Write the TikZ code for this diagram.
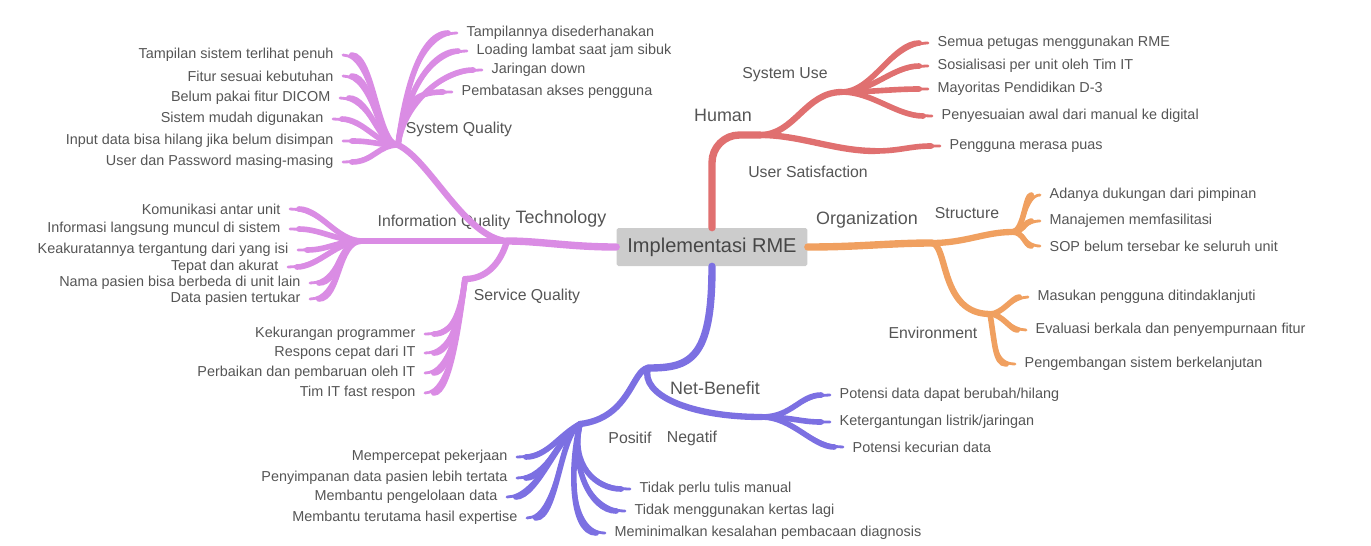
\documentclass[tikz,border=0pt]{standalone}
\usepackage{fontspec}
\setmainfont{Liberation Sans}
\usetikzlibrary{positioning}

\definecolor{techc}{RGB}{218,140,228}
\definecolor{humc}{RGB}{224,112,112}
\definecolor{orgc}{RGB}{240,160,96}
\definecolor{netc}{RGB}{124,112,226}
\definecolor{txtc}{RGB}{85,85,85}
\definecolor{boxc}{RGB}{204,204,204}

\tikzset{
  trunk/.style={draw=#1, line width=4.2pt, line cap=round},
  branch/.style={draw=#1, line width=3.6pt, line cap=round},
  leaf/.style={draw=#1, line width=3.2pt, line cap=round, shorten >=5pt,
    postaction={draw=#1, line width=1.6pt, shorten >=0pt}},
  leafl/.style={anchor=east, inner sep=1pt, outer sep=4.5pt, text=txtc, font=\fontsize{8.2}{9}\selectfont},
  leafr/.style={leafl, anchor=west},
  mainlbl/.style={text=txtc, font=\fontsize{10.2}{12}\selectfont},
  sublbl/.style={text=txtc, font=\fontsize{9}{11}\selectfont},
  root/.style={fill=boxc, rounded corners=1pt, minimum width=3.82cm, minimum height=0.76cm,
    text={rgb,255:red,70;green,70;blue,70}, font=\fontsize{11.4}{13}\selectfont}
}

\begin{document}
\begin{tikzpicture}[x=0.02cm,y=-0.02cm]
  \useasboundingbox (0,0) rectangle (1371,545);

  \node[root] (rme) at (712,247) {Implementasi RME};

  \coordinate (tj) at (507,241);
  \coordinate (sqh) at (398,145);
  \coordinate (iqh) at (362,241);
  \coordinate (svh) at (465,279);
  \coordinate (hj) at (760,135);
  \coordinate (suh) at (842,92);
  \coordinate (ush) at (875,151);
  \coordinate (oj) at (932,243);
  \coordinate (sth) at (1012,232);
  \coordinate (enh) at (990,314);
  \coordinate (nbj) at (648,368);
  \coordinate (poh) at (580,424);
  \coordinate (neh) at (762,417);

  \node[mainlbl] (tech) at (561,219) {Technology};
  \node[mainlbl] (hum) at (723,115) {Human};
  \node[mainlbl] (org) at (867,220) {Organization};
  \node[mainlbl] (nb) at (715,388) {Net-Benefit};
  \node[sublbl] (sq) at (459,129) {System Quality};
  \node[sublbl] (iq) at (444,222) {Information Quality};
  \node[sublbl] (sv) at (527,296) {Service Quality};
  \node[sublbl] (su) at (785,75) {System Use};
  \node[sublbl] (us) at (808,172) {User Satisfaction};
  \node[sublbl] (st) at (967,213) {Structure};
  \node[sublbl] (en) at (933,333) {Environment};
  \node[sublbl] (pos) at (630,438) {Positif};
  \node[sublbl] (neg) at (692,438) {Negatif};

  % Technology
  \node[leafl] (sq1) at (343,55) {Tampilan sistem terlihat penuh};
  \node[leafl] (sq2) at (343,76) {Fitur sesuai kebutuhan};
  \node[leafl] (sq3) at (340,98) {Belum pakai fitur DICOM};
  \node[leafl] (sq4) at (333,119) {Sistem mudah digunakan};
  \node[leafl] (sq5) at (343,141) {Input data bisa hilang jika belum disimpan};
  \node[leafl] (sq6) at (343,162) {User dan Password masing-masing};
  \node[leafr] (sq7) at (457,33) {Tampilannya disederhanakan};
  \node[leafr] (sq8) at (467,51) {Loading lambat saat jam sibuk};
  \node[leafr] (sq9) at (482,70) {Jaringan down};
  \node[leafr] (sq10) at (452,92) {Pembatasan akses pengguna};

  \node[leafl] (iq1) at (290,209) {Komunikasi antar unit};
  \node[leafl] (iq2) at (290,229) {Informasi langsung muncul di sistem};
  \node[leafl] (iq3) at (298,250) {Keakuratannya tergantung dari yang isi};
  \node[leafl] (iq4) at (288,267) {Tepat dan akurat};
  \node[leafl] (iq5) at (310,283) {Nama pasien bisa berbeda di unit lain};
  \node[leafl] (iq6) at (310,299) {Data pasien tertukar};

  \node[leafl] (sv1) at (425,334) {Kekurangan programmer};
  \node[leafl] (sv2) at (425,353) {Respons cepat dari IT};
  \node[leafl] (sv3) at (425,373) {Perbaikan dan pembaruan oleh IT};
  \node[leafl] (sv4) at (425,393) {Tim IT fast respon};

  \draw[trunk=techc] (rme.west) .. controls (570,247) and (540,241) .. (tj);
  \draw[branch=techc] (tj) -- (iqh);
  \draw[branch=techc] (tj) .. controls (465,238) and (430,160) .. (sqh);
  \draw[branch=techc] (tj) .. controls (500,265) and (485,279) .. (svh);
  \foreach \i in {1,...,6}
    \draw[leaf=techc] (sqh) .. controls +(-20,0) and +(30,0) .. (sq\i.east);
  \foreach \i in {7,...,10}
    \draw[leaf=techc] (sqh) .. controls +(5,-40) and +(-40,0) .. (sq\i.west);
  \foreach \i in {1,...,6}
    \draw[leaf=techc] (iqh) .. controls +(-25,0) and +(30,0) .. (iq\i.east);
  \foreach \i in {1,...,4}
    \draw[leaf=techc] (svh) .. controls +(-5,40) and +(25,0) .. (sv\i.east);

  % Human
  \node[leafr] (su1) at (928,43) {Semua petugas menggunakan RME};
  \node[leafr] (su2) at (928,66) {Sosialisasi per unit oleh Tim IT};
  \node[leafr] (su3) at (928,89) {Mayoritas Pendidikan D-3};
  \node[leafr] (su4) at (932,116) {Penyesuaian awal dari manual ke digital};
  \node[leafr] (us1) at (940,146) {Pengguna merasa puas};

  \draw[trunk=humc, rounded corners=0.55cm] (rme.north) |- (hj);
  \draw[branch=humc] (hj) .. controls (795,135) and (805,92) .. (suh);
  \draw[branch=humc] (hj) .. controls (800,135) and (835,151) .. (ush);
  \draw[leaf=humc] (ush) .. controls (900,151) and (910,146) .. (us1.west);
  \foreach \i in {1,...,4}
    \draw[leaf=humc] (suh) .. controls +(30,0) and +(-35,0) .. (su\i.west);

  % Organization
  \node[leafr] (st1) at (1040,195) {Adanya dukungan dari pimpinan};
  \node[leafr] (st2) at (1040,221) {Manajemen memfasilitasi};
  \node[leafr] (st3) at (1040,246) {SOP belum tersebar ke seluruh unit};
  \node[leafr] (en1) at (1028,297) {Masukan pengguna ditindaklanjuti};
  \node[leafr] (en2) at (1026,330) {Evaluasi berkala dan penyempurnaan fitur};
  \node[leafr] (en3) at (1015,364) {Pengembangan sistem berkelanjutan};

  \draw[trunk=orgc] (rme.east) .. controls (860,247) and (890,243) .. (oj);
  \draw[branch=orgc] (oj) .. controls (965,243) and (985,232) .. (sth);
  \draw[branch=orgc] (oj) .. controls (948,245) and (940,314) .. (enh);
  \foreach \i in {1,...,3}
    \draw[leaf=orgc] (sth) .. controls +(12,0) and +(-15,0) .. (st\i.west);
  \draw[leaf=orgc] (enh) .. controls +(12,0) and +(-15,0) .. (en1.west);
  \draw[leaf=orgc] (enh) .. controls +(12,0) and +(-15,0) .. (en2.west);
  \draw[leaf=orgc] (enh) .. controls +(5,30) and +(-20,0) .. (en3.west);

  % Net-Benefit
  \node[leafr] (ne1) at (830,395) {Potensi data dapat berubah/hilang};
  \node[leafr] (ne2) at (830,422) {Ketergantungan listrik/jaringan};
  \node[leafr] (ne3) at (843,447) {Potensi kecurian data};
  \node[leafl] (po1) at (517,457) {Mempercepat pekerjaan};
  \node[leafl] (po2) at (517,478) {Penyimpanan data pasien lebih tertata};
  \node[leafl] (po3) at (507,497) {Membantu pengelolaan data};
  \node[leafl] (po4) at (527,518) {Membantu terutama hasil expertise};
  \node[leafr] (po5) at (630,489) {Tidak perlu tulis manual};
  \node[leafr] (po6) at (625,511) {Tidak menggunakan kertas lagi};
  \node[leafr] (po7) at (605,533) {Meminimalkan kesalahan pembacaan diagnosis};

  \draw[trunk=netc] (rme.south) .. controls (712,360) and (690,368) .. (nbj);
  \draw[branch=netc] (nbj) .. controls (632,370) and (630,418) .. (poh);
  \draw[branch=netc] (nbj) .. controls (640,395) and (690,417) .. (neh);
  \foreach \i in {1,...,3}
    \draw[leaf=netc] (neh) .. controls +(30,0) and +(-30,0) .. (ne\i.west);
  \foreach \i in {1,...,4}
    \draw[leaf=netc] (poh) .. controls +(-20,10) and +(30,0) .. (po\i.east);
  \foreach \i in {5,...,7}
    \draw[leaf=netc] (poh) .. controls +(-10,40) and +(-35,0) .. (po\i.west);
\end{tikzpicture}
\end{document}
